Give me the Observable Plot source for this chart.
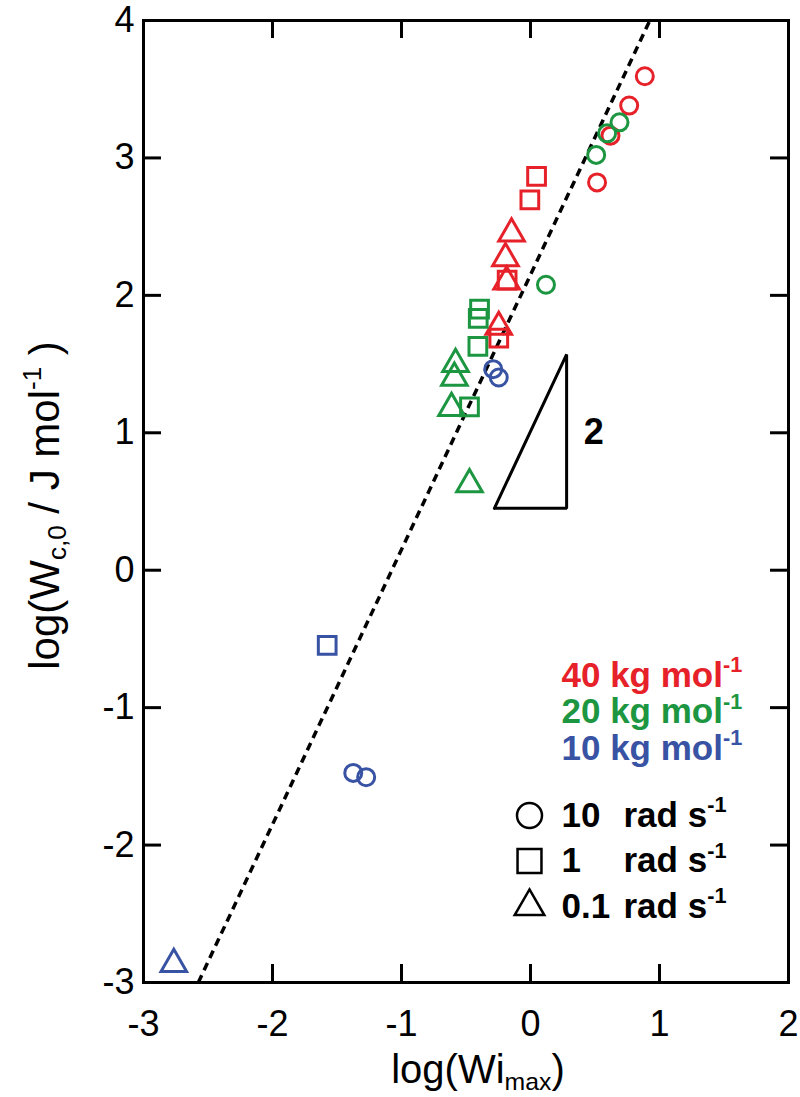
<!DOCTYPE html>
<html>
<head>
<meta charset="utf-8">
<script src="https://cdn.jsdelivr.net/npm/d3@7"></script>
<script src="https://cdn.jsdelivr.net/npm/@observablehq/plot@0.6"></script>
<style>
  body { margin: 0; background: #fff; }
  #chart svg { display: block; font-family: "Liberation Sans", Arial, Helvetica, sans-serif; }
</style>
</head>
<body>
<div id="chart"></div>
<script>
// Axis ticks
const xTicks = [-3, -2, -1, 0, 1, 2];
const yTicks = [-3, -2, -1, 0, 1, 2, 3, 4];

// Molar masses (series) and angular frequencies (symbols)
const massLabels = ["40 kg mol^{-1}", "20 kg mol^{-1}", "10 kg mol^{-1}"];
const freqLabels = ["10", "1", "0.1"];
const freqSymbols = ["circle", "square", "triangle"];

// log(Wi_max) vs log(W_c,0) for each molar mass
const series40 = [
  {freq: "10", wi: 0.886, wc: 3.594},
  {freq: "10", wi: 0.765, wc: 3.381},
  {freq: "10", wi: 0.620, wc: 3.162},
  {freq: "10", wi: 0.516, wc: 2.822},
  {freq: "1", wi: 0.047, wc: 2.866},
  {freq: "1", wi: -0.005, wc: 2.694},
  {freq: "1", wi: -0.181, wc: 2.111},
  {freq: "1", wi: -0.246, wc: 1.689},
  {freq: "0.1", wi: -0.147, wc: 2.45},
  {freq: "0.1", wi: -0.194, wc: 2.27},
  {freq: "0.1", wi: -0.185, wc: 2.10},
  {freq: "0.1", wi: -0.246, wc: 1.77}
];
const series20 = [
  {freq: "10", wi: 0.690, wc: 3.259},
  {freq: "10", wi: 0.594, wc: 3.179},
  {freq: "10", wi: 0.509, wc: 3.022},
  {freq: "10", wi: 0.120, wc: 2.077},
  {freq: "1", wi: -0.395, wc: 1.90},
  {freq: "1", wi: -0.405, wc: 1.832},
  {freq: "1", wi: -0.408, wc: 1.628},
  {freq: "1", wi: -0.473, wc: 1.189},
  {freq: "0.1", wi: -0.581, wc: 1.50},
  {freq: "0.1", wi: -0.590, wc: 1.40},
  {freq: "0.1", wi: -0.612, wc: 1.18},
  {freq: "0.1", wi: -0.473, wc: 0.625}
];
const series10 = [
  {freq: "10", wi: -0.289, wc: 1.463},
  {freq: "10", wi: -0.246, wc: 1.402},
  {freq: "10", wi: -1.374, wc: -1.475},
  {freq: "10", wi: -1.274, wc: -1.506},
  {freq: "1", wi: -1.576, wc: -0.547},
  {freq: "0.1", wi: -2.765, wc: -2.866}
];

// Power-law guide: log W_c,0 = 2 log Wi_max + b
const fitSlope = 2;
const fitIntercept = 2.15;
// Slope-2 triangle: base from x0 to x1 at height y0
const slopeTri = {x0: -0.28, x1: 0.28, y0: 0.45};

// Styling
const massColors = ["#e62129", "#1d9641", "#3953a4"];
const W = 800, H = 1097;
const M = {top: 20, right: 12, bottom: 115, left: 143};
const innerW = W - M.left - M.right;
const innerH = H - M.top - M.bottom;
const tickLen = 18;
const markerR = {circle: 8.5, square: 10, triangle: 9.5};
const legendR = {circle: 12.5, square: 13.5, triangle: 11};

const fitLine = [-3, 4].map(y => ({wi: (y - fitIntercept) / fitSlope, wc: y}));
const triTop = slopeTri.y0 + fitSlope * (slopeTri.x1 - slopeTri.x0);
const triangle = [
  [slopeTri.x0, slopeTri.y0], [slopeTri.x1, slopeTri.y0],
  [slopeTri.x1, triTop], [slopeTri.x0, slopeTri.y0]
];

function seriesMarks(rows, color) {
  // triangles first, then squares, then circles
  return ["0.1", "1", "10"].map(f => {
    const sym = freqSymbols[freqLabels.indexOf(f)];
    return Plot.dot(rows.filter(d => d.freq === f), {
      x: "wi", y: "wc", symbol: sym, r: markerR[sym],
      stroke: color, fill: "none", strokeWidth: 3
    });
  });
}

const legendText = {frameAnchor: "top-left", textAnchor: "start", lineAnchor: "middle",
  fontSize: 35, fontWeight: "bold"};
const legendMass = massLabels.map((t, i) => Plot.text([t], {
  ...legendText, dx: 418, dy: 655 + 36.5 * i, fill: massColors[i]
}));
const legendFreq = freqLabels.flatMap((f, i) => {
  const dy = 795 + 45.5 * i;
  const sym = freqSymbols[i];
  return [
    Plot.dot([f], {frameAnchor: "top-left", dx: 386, dy, symbol: sym, r: legendR[sym],
      stroke: "black", fill: "none", strokeWidth: 2.5}),
    Plot.text([f], {...legendText, dx: 418, dy}),
    Plot.text(["rad s^{-1}"], {...legendText, dx: 480, dy})
  ];
});

const chart = Plot.plot({
  width: W, height: H,
  marginTop: M.top, marginRight: M.right, marginBottom: M.bottom, marginLeft: M.left,
  x: {domain: [-3, 2]},
  y: {domain: [-3, 4]},
  style: {background: "#fff", color: "black"},
  marks: [
    Plot.line(fitLine, {x: "wi", y: "wc", stroke: "black", strokeWidth: 3.5,
      strokeDasharray: "8,5.5", strokeLinecap: "butt"}),
    Plot.line(triangle, {stroke: "black", strokeWidth: 3, strokeLinejoin: "miter"}),
    Plot.text(["2"], {x: 0.49, y: 1.0, fontSize: 36, fontWeight: "bold"}),
    ...seriesMarks(series40, massColors[0]),
    ...seriesMarks(series20, massColors[1]),
    ...seriesMarks(series10, massColors[2]),
    ...legendMass,
    ...legendFreq,
    // inward ticks on all four sides
    Plot.tickX(xTicks, {x: d => d, insetTop: innerH - tickLen, stroke: "black", strokeWidth: 3}),
    Plot.tickX(xTicks, {x: d => d, insetBottom: innerH - tickLen, stroke: "black", strokeWidth: 3}),
    Plot.tickY(yTicks, {y: d => d, insetRight: innerW - tickLen, stroke: "black", strokeWidth: 3}),
    Plot.tickY(yTicks, {y: d => d, insetLeft: innerW - tickLen, stroke: "black", strokeWidth: 3}),
    Plot.frame({stroke: "black", strokeWidth: 3}),
    Plot.axisX(xTicks, {anchor: "bottom", tickSize: 0, tickPadding: 42, fontSize: 36,
      lineAnchor: "middle", tickFormat: d => String(d), label: null}),
    Plot.axisY(yTicks, {anchor: "left", tickSize: 0, tickPadding: 9, fontSize: 36,
      tickFormat: d => String(d), label: null}),
    Plot.text(["log(Wi_{max})"], {frameAnchor: "bottom", textAnchor: "middle", lineAnchor: "middle",
      dx: 12, dy: 88, fontSize: 40}),
    Plot.text(["log(W_{c,0} / J mol^{-1} )"], {frameAnchor: "left", textAnchor: "middle",
      lineAnchor: "middle", dx: -98, dy: 4, rotate: -90, fontSize: 42})
  ]
});

document.getElementById("chart").appendChild(chart);

// Turn ^{...} and _{...} into superscript / subscript tspans
chart.querySelectorAll("text").forEach(t => {
  const s = t.textContent;
  if (!/[\^_]\{/.test(s)) return;
  const size = parseFloat(getComputedStyle(t).fontSize);
  const parts = s.split(/([\^_]\{[^}]*\})/).filter(p => p);
  t.textContent = "";
  let shift = 0;
  for (const p of parts) {
    const ts = document.createElementNS("http://www.w3.org/2000/svg", "tspan");
    let target = 0, txt = p, small = false;
    if (p.startsWith("^{")) { target = -0.42 * size; txt = p.slice(2, -1); small = true; }
    else if (p.startsWith("_{")) { target = 0.16 * size; txt = p.slice(2, -1); small = true; }
    ts.setAttribute("dy", target - shift);
    shift = target;
    if (small) ts.setAttribute("font-size", 0.62 * size);
    ts.textContent = txt;
    t.appendChild(ts);
  }
});
</script>
</body>
</html>
